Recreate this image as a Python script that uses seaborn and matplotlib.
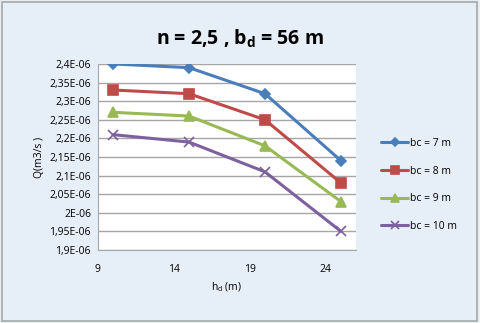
import numpy as np
import pandas as pd
import matplotlib
matplotlib.use("Agg")
import matplotlib.pyplot as plt
import seaborn as sns
from matplotlib.ticker import FuncFormatter, MultipleLocator, FixedLocator
from matplotlib.patches import Rectangle

# data
hd = [10, 15, 20, 25]
q_bc7 = [2.40e-6, 2.39e-6, 2.32e-6, 2.14e-6]
q_bc8 = [2.33e-6, 2.32e-6, 2.25e-6, 2.08e-6]
q_bc9 = [2.27e-6, 2.26e-6, 2.18e-6, 2.03e-6]
q_bc10 = [2.21e-6, 2.19e-6, 2.11e-6, 1.95e-6]
series_names = ["bc = 7 m", "bc = 8 m", "bc = 9 m", "bc = 10 m"]
x_ticks = [9, 14, 19, 24]

df = pd.DataFrame({
    "hd": hd * 4,
    "Q": q_bc7 + q_bc8 + q_bc9 + q_bc10,
    "serie": [n for n in series_names for _ in hd],
})

sns.set_style("white")
plt.rcParams["font.family"] = ["Open Sans", "DejaVu Sans"]
plt.rcParams["text.color"] = "black"
plt.rcParams["axes.labelcolor"] = "black"
plt.rcParams["xtick.color"] = "black"
plt.rcParams["ytick.color"] = "black"

colors = ["#4a7ebb", "#be4b48", "#98b954", "#7d60a0"]
markers = ["D", "s", "^", "x"]
msizes = [5.5, 6.5, 6.5, 7]

fig = plt.figure(figsize=(4.8, 3.23), dpi=100)
fig.patch.set_facecolor("#e6eef8")
fig.patches.append(Rectangle((0.004, 0.006), 0.99, 0.988, transform=fig.transFigure,
                             fill=False, edgecolor="#a6a6a6", linewidth=1.2))

ax = fig.add_axes([0.204, 0.226, 0.538, 0.576])
ax.set_facecolor("white")

for name, c, m, ms in zip(series_names, colors, markers, msizes):
    sub = df[df["serie"] == name]
    sns.lineplot(data=sub, x="hd", y="Q", ax=ax, color=c, marker=m,
                 markersize=ms, linewidth=2.2, markeredgecolor=c,
                 markeredgewidth=1.2, label=name)

ax.set_xlim(9, 26)
ax.set_ylim(1.9e-6, 2.4e-6)
ax.xaxis.set_major_locator(FixedLocator(x_ticks))
ax.yaxis.set_major_locator(MultipleLocator(0.05e-6))


def fmt(v, pos):
    m = round(v * 1e6, 2)
    s = ("%g" % m).replace(".", ",")
    return s + "E-06"


ax.yaxis.set_major_formatter(FuncFormatter(fmt))
ax.grid(axis="y", color="#a6a6a6", linewidth=1)
ax.grid(axis="x", visible=False)
for sp in ["top", "right"]:
    ax.spines[sp].set_visible(False)
for sp in ["left", "bottom"]:
    ax.spines[sp].set_color("#a6a6a6")
ax.tick_params(axis="both", labelsize=7.5, length=0, pad=5)
ax.tick_params(axis="x", pad=10)

ax.set_xlabel("h$_{\\mathregular{d}}$ (m)", fontsize=7.5)
ax.set_ylabel("Q(m3/s )", fontsize=7.5, labelpad=3)
fig.suptitle("n = 2,5 , b$_{\\mathregular{d}}$ = 56 m", x=0.5, y=0.915,
             fontsize=14, fontweight="bold")

handles, labels = ax.get_legend_handles_labels()
leg = ax.legend(handles, labels, loc="center left", bbox_to_anchor=(1.06, 0.35),
                frameon=False, fontsize=7.5, handlelength=2.6, labelspacing=1.6,
                handletextpad=0.2, markerscale=0.8)

for line in leg.get_lines():
    line.set_linewidth(2.2)

fig.savefig("out.png", dpi=100, facecolor=fig.get_facecolor())
